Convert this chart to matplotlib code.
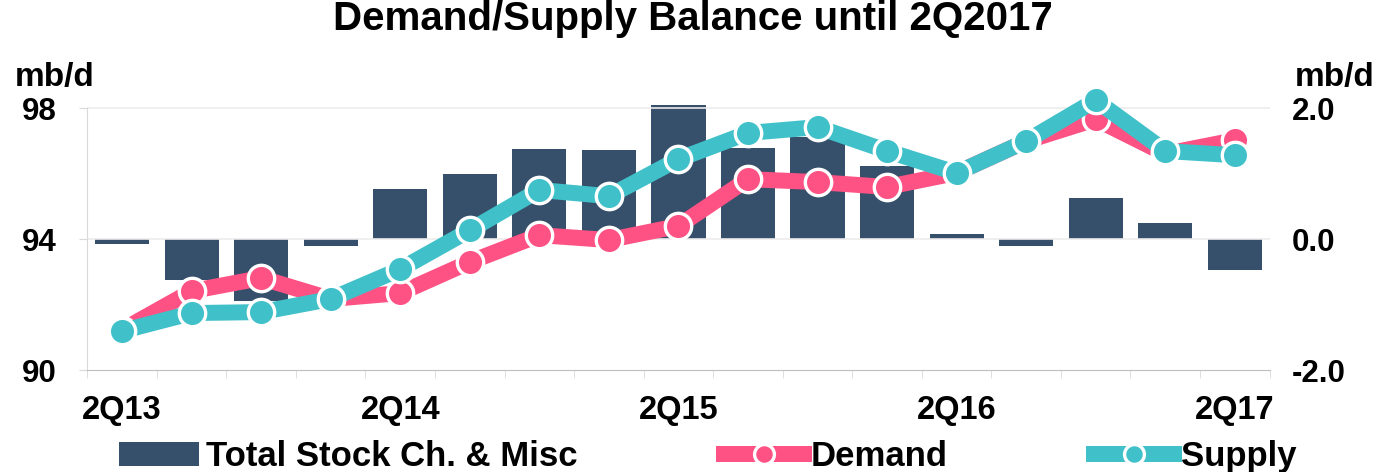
import matplotlib.pyplot as plt
import numpy as np

plt.rcParams["font.family"] = ["Liberation Sans", "DejaVu Sans"]
plt.rcParams["font.weight"] = "bold"

quarters = ["2Q13", "3Q13", "4Q13", "1Q14", "2Q14", "3Q14", "4Q14", "1Q15", "2Q15",
            "3Q15", "4Q15", "1Q16", "2Q16", "3Q16", "4Q16", "1Q17", "2Q17"]
demand = [91.22, 92.41, 92.81, 92.17, 92.35, 93.30, 94.12, 93.97, 94.40,
          95.83, 95.74, 95.59, 96.02, 96.99, 97.66, 96.60, 97.02]
supply = [91.19, 91.74, 91.77, 92.17, 93.08, 94.27, 95.50, 95.31, 96.44,
          97.24, 97.42, 96.69, 96.02, 96.99, 98.24, 96.69, 96.56]
stock_change = [-0.08, -0.62, -0.95, -0.10, 0.76, 1.00, 1.38, 1.36, 2.05,
                1.39, 1.56, 1.12, 0.08, -0.10, 0.62, 0.24, -0.47]
tick_labels = {0: "2Q13", 4: "2Q14", 8: "2Q15", 12: "2Q16", 16: "2Q17"}

BAR = "#36506b"
PINK = "#fe5284"
TEAL = "#40c1c9"
GRID = "#d9d9d9"

fig = plt.figure(figsize=(13.86, 4.72), dpi=100)
top_val = 98.6
ax = fig.add_axes([0.063, 0.216, 0.853, (0.771 - 0.216) * (top_val - 90) / 8])
ax2 = ax.twinx()
ax.set_zorder(ax2.get_zorder() + 1)
ax.patch.set_visible(False)

x = np.arange(len(quarters))
bars = ax2.bar(x, stock_change, width=0.78, color=BAR, label="Total Stock Ch. & Misc")

line_kw = dict(lw=11.5, marker="o", ms=19, mec="white", mew=2.4, solid_joinstyle="round")
ld, = ax.plot(x, demand, color=PINK, label="Demand", **line_kw)
ls, = ax.plot(x, supply, color=TEAL, label="Supply", **line_kw)

ax.set_xlim(-0.5, len(quarters) - 0.5)
ax.set_ylim(90, top_val)
ax2.set_ylim(-2, -2 + (top_val - 90) / 2)

ax.set_yticks([90, 94, 98])
ax.set_yticklabels(["90", "94", "98"])
ax2.set_yticks([-2, 0, 2])
ax2.set_yticklabels(["-2.0", "0.0", "2.0"])
ax.set_xticks(list(tick_labels.keys()))
ax.set_xticklabels(list(tick_labels.values()))
# category boundary ticks, like the spreadsheet axis
ax.set_xticks(np.arange(-0.5, len(quarters)), minor=True)

for a in (ax, ax2):
    for s in a.spines.values():
        s.set_visible(False)
ax.spines["left"].set_visible(True)
ax.spines["left"].set_color(GRID)
ax.spines["left"].set_bounds(90, 98)
ax.spines["bottom"].set_visible(True)
ax.spines["bottom"].set_color("#bfbfbf")

for v in (94, 98):
    ax.axhline(v, color="#ececec", lw=1.2, zorder=0)

ax.tick_params(axis="y", labelsize=22.5, length=6, color=GRID, pad=16)
ax2.tick_params(axis="y", labelsize=22.5, length=0, pad=16)
ax.tick_params(axis="x", labelsize=23.5, length=0, pad=18)
ax.tick_params(axis="x", which="minor", length=6, color=GRID)

fig.text(0.068, 0.835, "mb/d", fontsize=24, fontweight="bold", ha="right", va="center")
fig.text(0.934, 0.835, "mb/d", fontsize=24, fontweight="bold", ha="left", va="center")
fig.suptitle("Demand/Supply Balance until 2Q2017", fontsize=29, fontweight="bold", y=1.0)

fig.legend(handles=[bars, ld, ls], loc="center", ncol=3, mode="expand",
           bbox_to_anchor=(0.0758, -0.01, 0.8695, 0.085), frameon=False,
           fontsize=25, handlelength=2.3, handletextpad=0.2, borderaxespad=0,
           markerscale=0.75)

fig.savefig("out.png", dpi=100)
